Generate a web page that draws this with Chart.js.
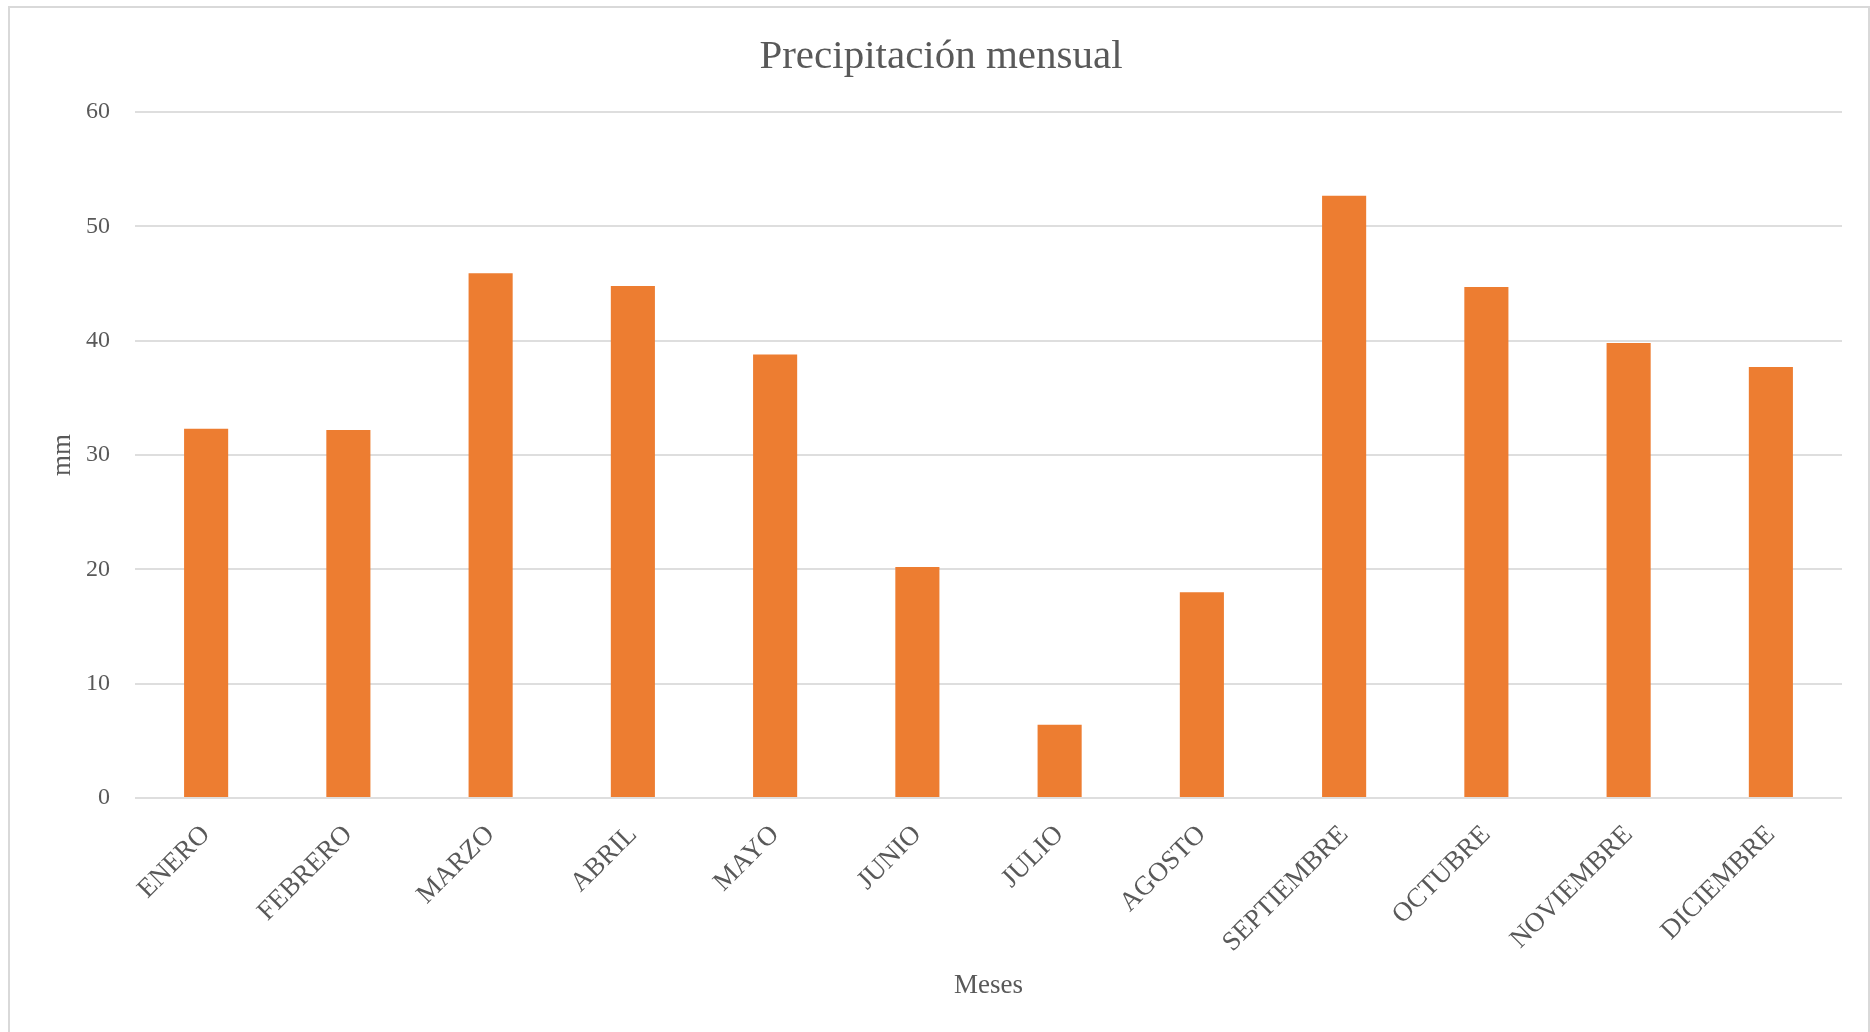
<!DOCTYPE html>
<html lang="es">
<head>
<meta charset="utf-8">
<title>Precipitación mensual</title>
<script src="https://cdn.jsdelivr.net/npm/chart.js@4/dist/chart.umd.min.js"></script>
<style>
  html, body { margin: 0; padding: 0; background: #fff; overflow: hidden; }
  #frame {
    position: absolute;
    left: 8px;
    top: 6px;
    width: 1858px;
    height: 1030px;
    border: 2px solid #d9d9d9;
    border-bottom: none;
  }
  canvas { display: block; }
</style>
</head>
<body>
<div id="frame">
  <canvas id="rainChart" width="1858" height="1024"></canvas>
</div>
<script>
// precipitación por mes (mm)
const meses = ["ENERO", "FEBRERO", "MARZO", "ABRIL", "MAYO", "JUNIO",
  "JULIO", "AGOSTO", "SEPTIEMBRE", "OCTUBRE", "NOVIEMBRE", "DICIEMBRE"];
const precipitacion = [32.3, 32.2, 45.9, 44.8, 38.8, 20.2, 6.4, 18.0, 52.7, 44.7, 39.8, 37.7];

const serif = "'Liberation Serif', 'DejaVu Serif', serif";
const gris = "#595959";

new Chart(document.getElementById("rainChart"), {
  type: "bar",
  data: {
    labels: meses,
    datasets: [{
      label: "Precipitación",
      data: precipitacion,
      backgroundColor: "#ED7D31",
      barPercentage: 0.31,
      categoryPercentage: 1
    }]
  },
  options: {
    responsive: false,
    animation: false,
    layout: { padding: { left: 30, right: 26, top: 0, bottom: 30 } },
    plugins: {
      legend: { display: false },
      tooltip: { enabled: false },
      title: {
        display: true,
        text: "Precipitación mensual",
        color: gris,
        font: { family: serif, size: 41, weight: "normal" },
        padding: { top: 25, bottom: 30 }
      }
    },
    scales: {
      x: {
        grid: { display: false },
        border: { display: false },
        ticks: {
          color: gris,
          font: { family: serif, size: 27 },
          minRotation: 45,
          maxRotation: 45,
          autoSkip: false,
          padding: 13
        },
        title: {
          display: true,
          text: "Meses",
          color: gris,
          font: { family: serif, size: 27 },
          padding: { top: 0, bottom: 0 }
        },
        afterFit: s => { s.height = 204; }
      },
      y: {
        min: 0,
        max: 60,
        grid: { color: "#dedede", lineWidth: 2, drawTicks: false },
        border: { display: false },
        ticks: {
          stepSize: 10,
          color: gris,
          font: { family: serif, size: 24 },
          padding: 25
        },
        title: {
          display: true,
          text: "mm",
          color: gris,
          font: { family: serif, size: 27 },
          padding: { top: 7, bottom: 0 }
        },
        afterFit: s => { s.width = 95; }
      }
    }
  }
});
</script>
</body>
</html>
